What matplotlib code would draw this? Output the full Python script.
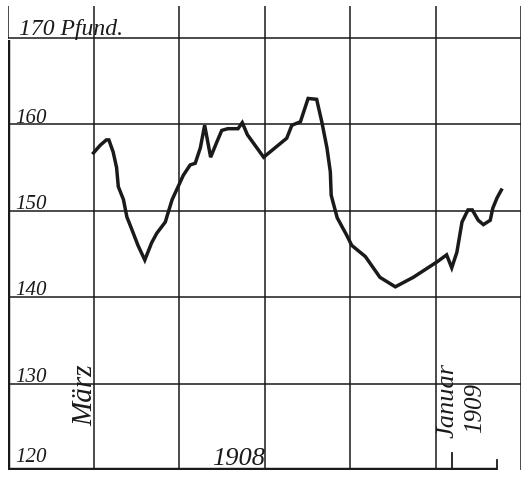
import matplotlib.pyplot as plt

# Körpergewicht (Pfund), x in Rasterfeldern ab linkem Rand
x_pos = [1.00, 1.08, 1.15, 1.18, 1.23, 1.27, 1.29, 1.35, 1.39, 1.45, 1.52, 1.60,
         1.68, 1.74, 1.84, 1.87, 1.92, 1.99, 2.05, 2.13, 2.19, 2.25, 2.30, 2.37,
         2.44, 2.50, 2.57, 2.69, 2.74, 2.80, 2.99, 3.26, 3.32, 3.42, 3.51, 3.61,
         3.67, 3.73, 3.77, 3.78, 3.85, 3.91, 3.96, 4.02, 4.18, 4.35, 4.53, 4.74,
         5.02, 5.13, 5.19, 5.25, 5.31, 5.38, 5.43, 5.50, 5.56, 5.64, 5.67, 5.72, 5.77]
weight = [156.7, 157.6, 158.2, 158.2, 156.8, 155.0, 152.8, 151.3, 149.3, 147.8, 146.0, 144.3,
          146.3, 147.4, 148.7, 149.7, 151.3, 152.8, 154.1, 155.3, 155.5, 157.3, 159.9, 156.2,
          157.9, 159.3, 159.5, 159.5, 160.2, 158.8, 156.2, 158.4, 159.9, 160.3, 163.0, 162.9,
          160.3, 157.3, 154.5, 151.8, 149.2, 148.1, 147.2, 146.0, 144.7, 142.3, 141.2, 142.3,
          144.1, 144.9, 143.4, 145.2, 148.7, 150.1, 150.1, 148.9, 148.4, 148.9, 150.3, 151.5, 152.4]
y_ticks = [120, 130, 140, 150, 160]

fig = plt.figure(figsize=(5.29, 4.82), dpi=100)
ax = fig.add_axes([8 / 529, 12 / 482, 513 / 529, 464 / 482])
ax.set_xlim(0, 6)
ax.set_ylim(120, 173.7)
ax.axis('off')

ink = '#1a1a1a'
hand = dict(family='Liberation Serif', style='italic', color=ink)

# Raster
for v in [130, 140, 150, 160, 170]:
    ax.plot([0, 6], [v, v], color=ink, lw=1.1)
for g in [1, 2, 3, 4, 5, 6]:
    ax.plot([g, g], [120, 173.7], color=ink, lw=1.1)
ax.plot([0, 0], [170, 173.7], color=ink, lw=1.1)
# dicke Achsen
ax.plot([0, 0], [120, 169.8], color=ink, lw=3.2, solid_capstyle='butt')
ax.plot([-0.02, 5.72], [120, 120], color=ink, lw=3.2, solid_capstyle='butt')
ax.plot([5.19, 5.19], [120, 122], color=ink, lw=1.3)
ax.plot([5.72, 5.72], [120, 121.2], color=ink, lw=1.3)

# Kurve
ax.plot(x_pos, weight, color=ink, lw=2.5, solid_joinstyle='miter')

# Beschriftung
for v in y_ticks:
    off = 0.9 if v == 120 else 0.2
    ax.text(0.08, v + off, str(v), ha='left', va='baseline', fontsize=15, **hand)
ax.text(0.13, 170.35, '170 Pfund.', ha='left', va='baseline', fontsize=17, **hand)
ax.text(2.70, 120.6, '1908', ha='center', va='baseline', fontsize=19, **hand)
ax.text(0.90, 128.7, 'März', rotation=90, ha='center', va='center', fontsize=21, **hand)
ax.text(5.14, 128.1, 'Januar', rotation=90, ha='center', va='center', fontsize=19, **hand)
ax.text(5.46, 127.2, '1909', rotation=90, ha='center', va='center', fontsize=18, **hand)

fig.savefig('out.png', dpi=100, facecolor='white')
